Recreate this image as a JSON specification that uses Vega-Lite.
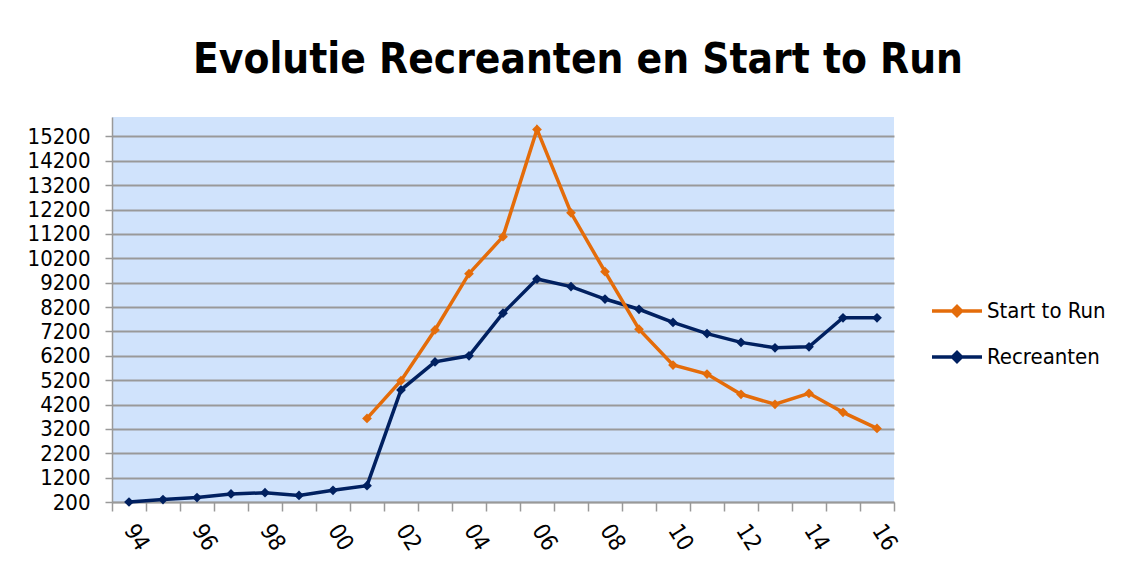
{
  "$schema": "https://vega.github.io/schema/vega-lite/v6.json",
  "autosize": "none",
  "width": 782,
  "height": 385,
  "padding": {"left": 112, "top": 117, "right": 238, "bottom": 63},
  "background": "white",
  "title": {
    "text": "Evolutie Recreanten en Start to Run",
    "anchor": "middle",
    "dx": 75,
    "baseline": "alphabetic",
    "offset": 2,
    "font": "DejaVu Sans Condensed",
    "fontWeight": "bold",
    "fontSize": 42,
    "color": "#000000"
  },
  "config": {
    "view": {"fill": "#D0E3FC", "stroke": null},
    "font": "DejaVu Sans Condensed"
  },
  "data": {
    "values": [
      {"yr": 1994, "series": "Recreanten", "value": 200},
      {"yr": 1995, "series": "Recreanten", "value": 300},
      {"yr": 1996, "series": "Recreanten", "value": 380},
      {"yr": 1997, "series": "Recreanten", "value": 530},
      {"yr": 1998, "series": "Recreanten", "value": 580},
      {"yr": 1999, "series": "Recreanten", "value": 470},
      {"yr": 2000, "series": "Recreanten", "value": 680},
      {"yr": 2001, "series": "Recreanten", "value": 870},
      {"yr": 2002, "series": "Recreanten", "value": 4800},
      {"yr": 2003, "series": "Recreanten", "value": 5950},
      {"yr": 2004, "series": "Recreanten", "value": 6200},
      {"yr": 2005, "series": "Recreanten", "value": 7950},
      {"yr": 2006, "series": "Recreanten", "value": 9350},
      {"yr": 2007, "series": "Recreanten", "value": 9040},
      {"yr": 2008, "series": "Recreanten", "value": 8530},
      {"yr": 2009, "series": "Recreanten", "value": 8110},
      {"yr": 2010, "series": "Recreanten", "value": 7570},
      {"yr": 2011, "series": "Recreanten", "value": 7110},
      {"yr": 2012, "series": "Recreanten", "value": 6750},
      {"yr": 2013, "series": "Recreanten", "value": 6530},
      {"yr": 2014, "series": "Recreanten", "value": 6570},
      {"yr": 2015, "series": "Recreanten", "value": 7760},
      {"yr": 2016, "series": "Recreanten", "value": 7760},
      {"yr": 2001, "series": "Start to Run", "value": 3630},
      {"yr": 2002, "series": "Start to Run", "value": 5180},
      {"yr": 2003, "series": "Start to Run", "value": 7260},
      {"yr": 2004, "series": "Start to Run", "value": 9570},
      {"yr": 2005, "series": "Start to Run", "value": 11090},
      {"yr": 2006, "series": "Start to Run", "value": 15490},
      {"yr": 2007, "series": "Start to Run", "value": 12070},
      {"yr": 2008, "series": "Start to Run", "value": 9650},
      {"yr": 2009, "series": "Start to Run", "value": 7290},
      {"yr": 2010, "series": "Start to Run", "value": 5820},
      {"yr": 2011, "series": "Start to Run", "value": 5450},
      {"yr": 2012, "series": "Start to Run", "value": 4620},
      {"yr": 2013, "series": "Start to Run", "value": 4210},
      {"yr": 2014, "series": "Start to Run", "value": 4660},
      {"yr": 2015, "series": "Start to Run", "value": 3880},
      {"yr": 2016, "series": "Start to Run", "value": 3220}
    ]
  },
  "encoding": {
    "x": {
      "field": "yr",
      "type": "ordinal",
      "scale": {"type": "band", "paddingInner": 0, "paddingOuter": 0},
      "axis": {
        "title": null,
        "tickBand": "extent",
        "labelExpr": "datum.value % 2 == 0 ? slice(toString(datum.value), 2) : ''",
        "labelAngle": 58,
        "labelFontSize": 23,
        "labelColor": "#000000",
        "labelPadding": 15,
        "tickSize": 9,
        "tickColor": "#999999",
        "tickWidth": 1.5,
        "domainColor": "#999999",
        "domainWidth": 1.5,
        "grid": false
      }
    },
    "y": {
      "field": "value",
      "type": "quantitative",
      "scale": {"domain": [200, 16000], "nice": false, "zero": false},
      "axis": {
        "title": null,
        "values": [200, 1200, 2200, 3200, 4200, 5200, 6200, 7200, 8200, 9200, 10200, 11200, 12200, 13200, 14200, 15200],
        "format": "d",
        "labelFontSize": 22,
        "labelColor": "#000000",
        "labelPadding": 15,
        "tickSize": 7,
        "tickColor": "#999999",
        "tickWidth": 1.5,
        "domainColor": "#999999",
        "domainWidth": 1.5,
        "grid": true,
        "gridColor": "#999999",
        "gridWidth": 2,
        "gridOpacity": 1
      }
    },
    "color": {
      "field": "series",
      "type": "nominal",
      "scale": {"domain": ["Start to Run", "Recreanten"], "range": ["#E46C0A", "#002060"]},
      "legend": {
        "title": null,
        "orient": "none",
        "legendX": 818,
        "legendY": 182,
        "symbolType": "M-1,0H4M1.5,-0.45L1.95,0L1.5,0.45L1.05,0Z",
        "symbolSize": 400,
        "symbolStrokeWidth": 3,
        "labelFontSize": 22,
        "labelColor": "#000000",
        "labelOffset": 33,
        "rowPadding": 22,
        "encode": {
          "symbols": {
            "update": {
              "stroke": {"scale": "color", "field": "value"},
              "fill": {"scale": "color", "field": "value"},
              "strokeWidth": {"value": 3.5},
              "opacity": {"value": 1}
            }
          }
        }
      }
    }
  },
  "layer": [
    {
      "mark": {"type": "line", "strokeWidth": 3.5}
    },
    {
      "mark": {"type": "point", "shape": "diamond", "filled": true, "size": 95, "opacity": 1},
      "encoding": {"color": {"field": "series", "type": "nominal", "legend": null}}
    }
  ]
}
